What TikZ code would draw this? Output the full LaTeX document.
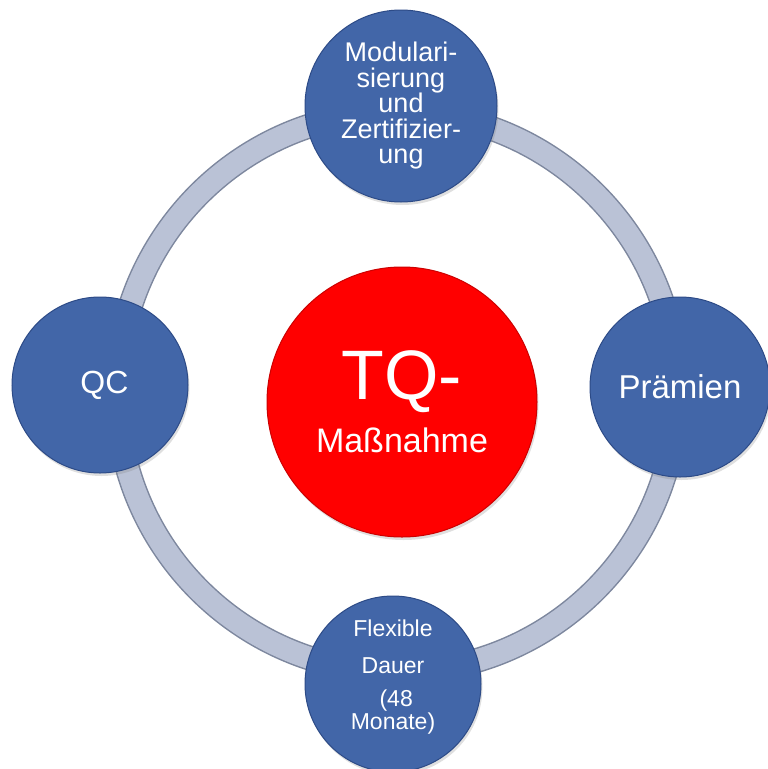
\documentclass[tikz,border=0pt]{standalone}
\usepackage{fontspec}
\setmainfont{Liberation Sans}
\usetikzlibrary{shadows}
\definecolor{ballblue}{RGB}{66,102,168}
\definecolor{ballrim}{RGB}{45,75,135}
\definecolor{ringfill}{RGB}{186,194,214}
\definecolor{ringrim}{RGB}{125,135,158}
\setlength{\lineskiplimit}{-100pt}
\tikzset{ball/.style={circle, draw=ballrim, line width=1pt, fill=ballblue, text=white, inner sep=0pt, align=center,
    drop shadow={shadow xshift=1.5pt, shadow yshift=-3pt, opacity=0.25}}}
\tikzset{redball/.style={ball, draw=red!80!black, fill=red}}

\begin{document}
\begin{tikzpicture}[x=1pt,y=-1pt]
    \useasboundingbox (0,0) rectangle (768,769);
    % ring
    \draw[line width=1.5pt, draw=ringrim, double=ringfill, double distance=22pt] (397,392) circle (280pt);

    \node[redball, minimum size=270pt, font=\fontsize{34}{53}\selectfont] (tq) at (402,402)
        {{\fontsize{70}{70}\selectfont TQ-}\\Maßnahme};
    \node[ball, minimum size=192pt, font=\fontsize{27}{25.5}\selectfont] (modul) at (401,106)
        {Modulari-\\sierung\\und\\Zertifizier-\\ung};
    \node[ball, minimum size=176pt, font=\fontsize{32}{34}\selectfont] (qc) at (100,385) {\ QC};
    \node[ball, minimum size=180pt, font=\fontsize{33}{34}\selectfont] (praem) at (680,387) {Prämien};
    \node[ball, minimum size=176pt, text depth=19pt, font=\fontsize{23}{23}\selectfont] (dauer) at (393,684)
        {Flexible\\[14pt]Dauer\\[10pt]\ (48\\Monate)};
\end{tikzpicture}
\end{document}
